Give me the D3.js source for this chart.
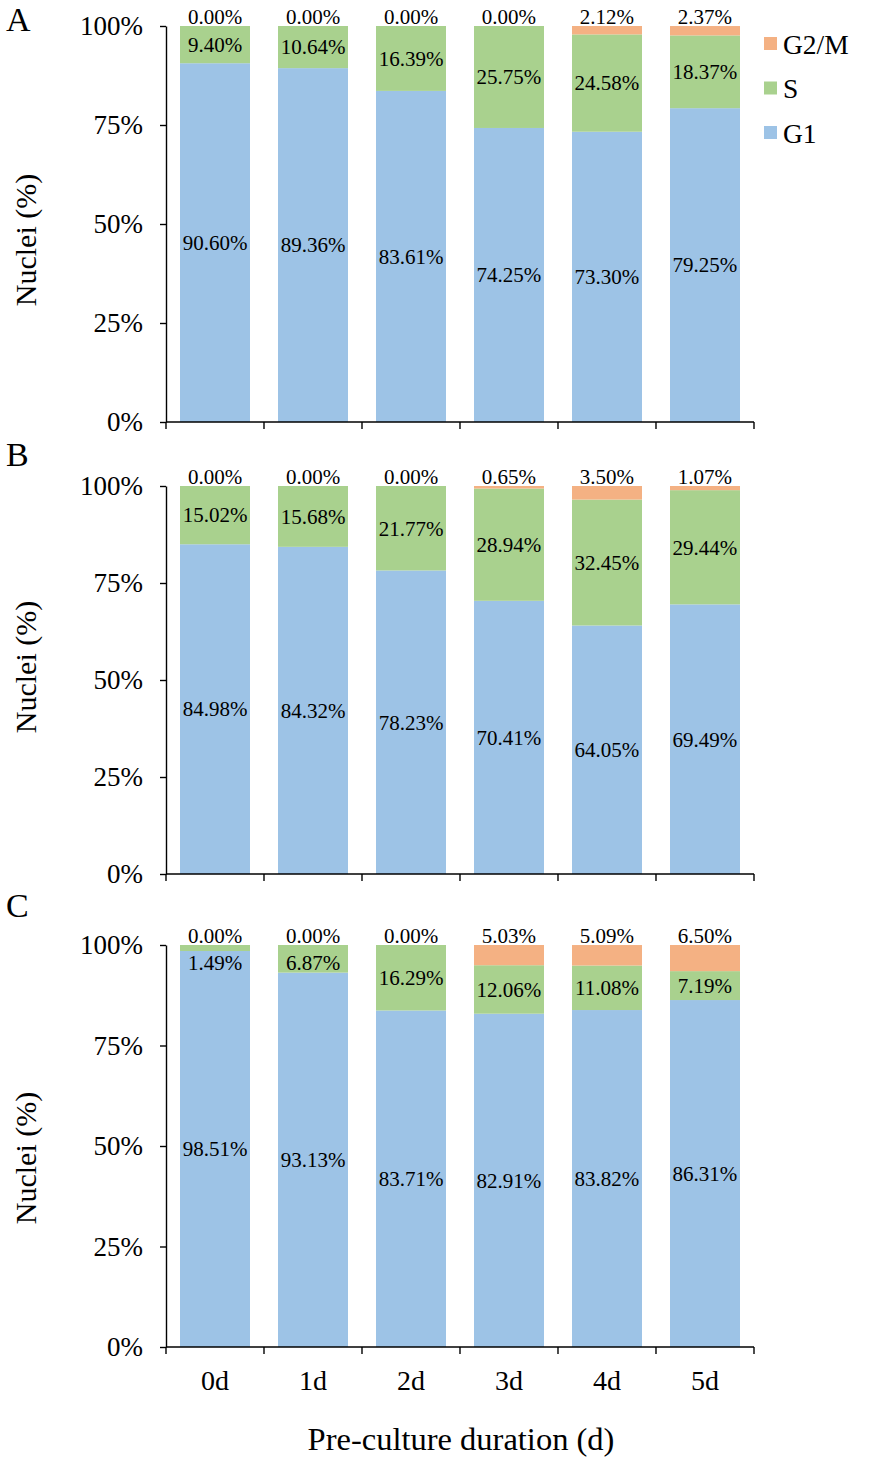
<!DOCTYPE html>
<html><head><meta charset="utf-8">
<script src="https://cdn.jsdelivr.net/npm/d3@7"></script>
<style>body{margin:0;background:#fff}svg{display:block}text{font-family:"Liberation Serif","Times New Roman",serif;fill:#000}</style>
</head><body><svg id="c" width="873" height="1467"></svg>
<script>
const categories = ["0d","1d","2d","3d","4d","5d"];
const seriesNames = ["G1","S","G2/M"];
const yTicks = [0,25,50,75,100];
const panelLetters = ["A","B","C"];
const A_G1 = [90.60,89.36,83.61,74.25,73.30,79.25];
const A_S  = [9.40,10.64,16.39,25.75,24.58,18.37];
const A_G2M= [0.00,0.00,0.00,0.00,2.12,2.37];
const B_G1 = [84.98,84.32,78.23,70.41,64.05,69.49];
const B_S  = [15.02,15.68,21.77,28.94,32.45,29.44];
const B_G2M= [0.00,0.00,0.00,0.65,3.50,1.07];
const C_G1 = [98.51,93.13,83.71,82.91,83.82,86.31];
const C_S  = [1.49,6.87,16.29,12.06,11.08,7.19];
const C_G2M= [0.00,0.00,0.00,5.03,5.09,6.50];
const panelData = [[A_G1,A_S,A_G2M],[B_G1,B_S,B_G2M],[C_G1,C_S,C_G2M]];
const colors = {"G1":"#9DC3E6","S":"#A9D18E","G2/M":"#F4B183"};

const svg = d3.select("#c");
const layout = [
  {top:26, bottom:422, letterY:31, titleY:240},
  {top:486, bottom:874, letterY:466, titleY:667},
  {top:945, bottom:1347, letterY:917, titleY:1158}
];
const x = d3.scaleBand().domain(categories).range([166,754]).paddingInner(0.2857).paddingOuter(0.1429);
const fmt = v => v.toFixed(2) + "%";

layout.forEach((L, pi) => {
  const y = d3.scaleLinear().domain([0,100]).range([L.bottom, L.top]);
  const g = svg.append("g");
  const [g1, s, g2m] = panelData[pi];
  const stackData = categories.map((c,i)=>({cat:c,"G1":g1[i],"S":s[i],"G2/M":g2m[i]}));
  const stacked = d3.stack().keys(seriesNames)(stackData);
  stacked.forEach(layer => {
    g.append("g").selectAll("rect").data(layer).join("rect")
      .attr("x", d=>x(d.data.cat)).attr("width", x.bandwidth())
      .attr("y", d=>y(d[1])).attr("height", d=>Math.max(0,y(d[0])-y(d[1])))
      .attr("fill", colors[layer.key]);
  });
  const lab = g.append("g").attr("font-size",21).attr("text-anchor","middle");
  stacked[0].forEach(d=>{
    lab.append("text").attr("x", x(d.data.cat)+x.bandwidth()/2).attr("y", y((d[0]+d[1])/2)).attr("dy","0.35em").text(fmt(d.data["G1"]));
  });
  stacked[1].forEach(d=>{
    const yy = Math.max(y((d[0]+d[1])/2), y(100)+18);
    lab.append("text").attr("x", x(d.data.cat)+x.bandwidth()/2).attr("y", yy).attr("dy","0.35em").text(fmt(d.data["S"]));
  });
  stacked[2].forEach(d=>{
    lab.append("text").attr("x", x(d.data.cat)+x.bandwidth()/2).attr("y", y(100)-9).attr("dy","0.35em").text(fmt(d.data["G2/M"]));
  });
  const ya = g.append("g").attr("transform","translate(166,0)")
    .call(d3.axisLeft(y).tickValues(yTicks).tickFormat(d=>d+"%").tickSize(6).tickSizeOuter(0).tickPadding(17));
  ya.selectAll("text").attr("font-size",27).attr("font-family","Liberation Serif");
  ya.selectAll("line,path").attr("stroke","#000").attr("stroke-width",1.4);
  const step = x.step();
  const bx = categories.map(c=>x(c) - step*x.paddingOuter()).concat([x(categories[categories.length-1]) + x.bandwidth() + step*x.paddingOuter()]);
  g.append("line").attr("x1",166).attr("x2",bx[bx.length-1]).attr("y1",L.bottom).attr("y2",L.bottom).attr("stroke","#000").attr("stroke-width",1.4);
  g.selectAll(".xt").data(bx).join("line").attr("x1",d=>d).attr("x2",d=>d).attr("y1",L.bottom).attr("y2",L.bottom+7).attr("stroke","#000").attr("stroke-width",1.4);
  g.append("text").attr("transform",`translate(36,${L.titleY}) rotate(-90)`).attr("text-anchor","middle").attr("font-size",30).text("Nuclei (%)");
  g.append("text").attr("x",6).attr("y",L.letterY).attr("font-size",34).text(panelLetters[pi]);
  if (pi===2) {
    g.selectAll(".xl").data(categories).join("text").attr("x",d=>x(d)+x.bandwidth()/2).attr("y",1390)
      .attr("text-anchor","middle").attr("font-size",28).text(d=>d);
    g.append("text").attr("x",461).attr("y",1450).attr("text-anchor","middle").attr("font-size",32.5).text("Pre-culture duration (d)");
  }
});
const leg = svg.append("g");
["G2/M","S","G1"].forEach((k,i)=>{
  const yy = 44 + i*44.5;
  leg.append("rect").attr("x",764).attr("y",yy-7).attr("width",13).attr("height",13).attr("fill",colors[k]);
  leg.append("text").attr("x",783).attr("y",yy).attr("dy","0.35em").attr("font-size",27.5).text(k);
});
</script></body></html>
